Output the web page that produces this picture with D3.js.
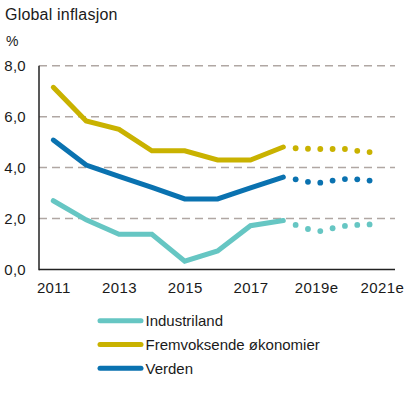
<!DOCTYPE html>
<html><head><meta charset="utf-8">
<script src="https://cdn.jsdelivr.net/npm/d3@7"></script>
<style>
html,body{margin:0;padding:0;background:#fff;}
svg{display:block;font-family:"Liberation Sans",Arial,sans-serif;}
</style></head>
<body><svg id="c" width="409" height="394"></svg>
<script>
const years = [2011,2012,2013,2014,2015,2016,2017,2018];
const industriland = [2.70,1.95,1.38,1.38,0.33,0.73,1.72,1.92];
const fremvoksende = [7.15,5.83,5.50,4.66,4.66,4.30,4.30,4.81];
const verden = [5.08,4.10,3.66,3.22,2.77,2.77,3.20,3.63];
const fcYears = [2018.375,2018.75,2019.125,2019.5,2019.875,2020.25,2020.625];
const fcIndustriland = [1.75,1.59,1.51,1.62,1.71,1.75,1.77];
const fcFremvoksende = [4.76,4.74,4.73,4.73,4.73,4.66,4.61];
const fcVerden = [3.54,3.44,3.41,3.49,3.55,3.54,3.49];
const xTickValues = [2011,2013,2015,2017,2019,2021];
const xTickLabels = ["2011","2013","2015","2017","2019e","2021e"];
const yTicks = [0,2,4,6,8];
const seriesNames = ["Industriland","Fremvoksende økonomier","Verden"];
const colors = ["#66c6c3","#c9b200","#0a72b0"];

const svg = d3.select("#c");
const x = d3.scaleLinear().domain([2011,2021]).range([53.3,381.9]);
const y = d3.scaleLinear().domain([0,8]).range([269.5,65.7]);
const left = 39, right = 395;

svg.append("text").attr("x",5).attr("y",20).attr("font-size",16).attr("letter-spacing",0.2).attr("fill","#1a1a1a").text("Global inflasjon");
svg.append("text").attr("x",6).attr("y",46).attr("font-size",14).attr("fill","#1a1a1a").text("%");

// gridlines
svg.append("g").selectAll("line").data(yTicks.filter(d=>d>0)).join("line")
  .attr("x1",left).attr("x2",right).attr("y1",d=>y(d)).attr("y2",d=>y(d))
  .attr("stroke","#b0a7a3").attr("stroke-width",1.5).attr("stroke-dasharray","8,5");

// y axis
const yAxis = d3.axisLeft(y).tickValues(yTicks).tickSize(0).tickPadding(13)
  .tickFormat(d=>d3.format(".1f")(d).replace(".",","));
const gy = svg.append("g").attr("transform",`translate(${left},0)`).call(yAxis);
gy.select(".domain").remove();
gy.selectAll("text").attr("font-size",15).attr("fill","#1a1a1a").attr("letter-spacing",0.3).attr("font-family","Liberation Sans, Arial, sans-serif");

// x axis labels
const xAxis = d3.axisBottom(x).tickValues(xTickValues).tickSize(0).tickPadding(13)
  .tickFormat((d,i)=>xTickLabels[i]);
const gx = svg.append("g").attr("transform",`translate(0,${y(0)})`).call(xAxis);
gx.select(".domain").remove();
gx.selectAll("text").attr("font-size",15).attr("fill","#1a1a1a").attr("letter-spacing",0.4).attr("font-family","Liberation Sans, Arial, sans-serif");

// axis lines
svg.append("line").attr("x1",left).attr("x2",left).attr("y1",y(8)).attr("y2",y(0)+0.75).attr("stroke","#222").attr("stroke-width",1.5);
svg.append("line").attr("x1",left).attr("x2",right).attr("y1",y(0)).attr("y2",y(0)).attr("stroke","#222").attr("stroke-width",1.5);

const line = d3.line().x((d,i)=>x(years[i])).y(d=>y(d));
const solid = [industriland,fremvoksende,verden];
const fc = [fcIndustriland,fcFremvoksende,fcVerden];
solid.forEach((s,k)=>{
  svg.append("path").attr("d",line(s)).attr("fill","none").attr("stroke",colors[k])
    .attr("stroke-width",5).attr("stroke-linecap","round").attr("stroke-linejoin","miter");
  svg.append("g").selectAll("circle").data(fc[k]).join("circle")
    .attr("cx",(d,i)=>x(fcYears[i])).attr("cy",d=>y(d)).attr("r",2.9).attr("fill",colors[k]);
});

// legend
const lg = svg.append("g");
seriesNames.forEach((n,i)=>{
  const yy = 320.7 + i*23.8;
  lg.append("line").attr("x1",100).attr("x2",141).attr("y1",yy).attr("y2",yy)
    .attr("stroke",colors[i]).attr("stroke-width",5).attr("stroke-linecap","round");
  lg.append("text").attr("x",145.5).attr("y",yy+5.5).attr("font-size",15).attr("fill","#1a1a1a").text(n);
});
</script></body></html>
